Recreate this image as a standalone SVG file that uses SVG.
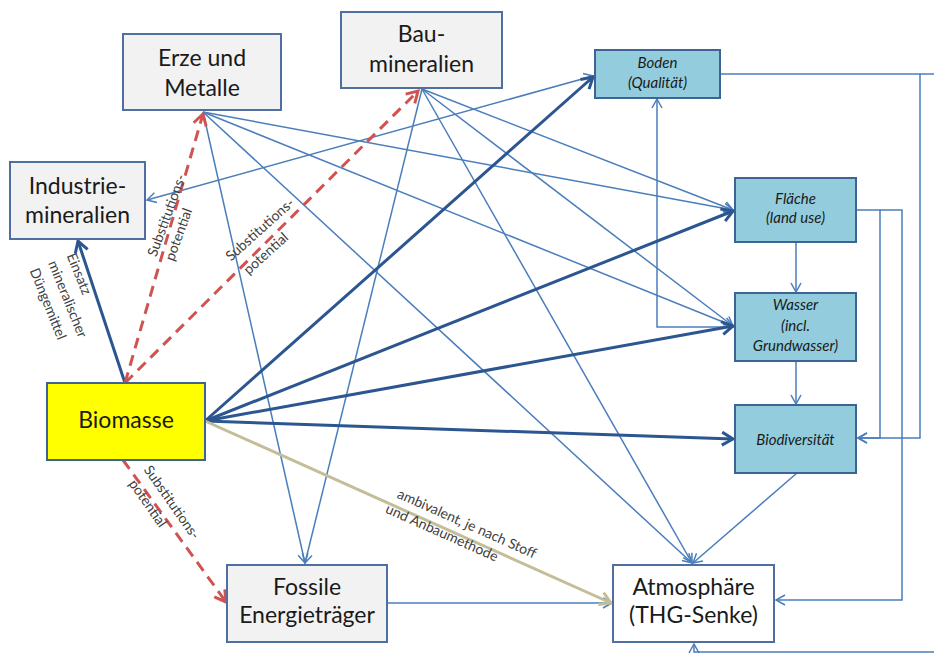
<svg xmlns="http://www.w3.org/2000/svg" width="934" height="655" viewBox="0 0 934 655">
<defs>
<style>
.grey{fill:#F2F2F2;stroke:#4F6FA0;stroke-width:2}
.blue{fill:#93CDDD;stroke:#3D6494;stroke-width:2}
.nt{font-family:Lato,"Liberation Sans",sans-serif;font-size:23px;fill:#1a1a1a;text-anchor:middle}
.bt{font-family:Lato,"Liberation Sans",sans-serif;font-size:15px;font-style:italic;fill:#1a1a1a;text-anchor:middle}
.lbl{font-family:Lato,"Liberation Sans",sans-serif;font-size:14px;fill:#404040;text-anchor:middle}
.thin{fill:none;stroke:#4A7EBB;stroke-width:1.5}
.thick{fill:none;stroke:#2B5690;stroke-width:3}
.red{fill:none;stroke:#CF5451;stroke-width:3;stroke-dasharray:11 7}
.tan{fill:none;stroke:#C4BD97;stroke-width:3}
</style>
<marker id="aThin" markerUnits="userSpaceOnUse" markerWidth="14" markerHeight="14" refX="11" refY="6" orient="auto-start-reverse"><path d="M2,1 L11,6 L2,11" fill="none" stroke="#4A7EBB" stroke-width="1.5"/></marker>
<marker id="aThick" markerUnits="userSpaceOnUse" markerWidth="18" markerHeight="18" refX="14" refY="8" orient="auto"><path d="M3,1.5 L14,8 L3,14.5" fill="none" stroke="#2B5690" stroke-width="3"/></marker>
<marker id="aRed" markerUnits="userSpaceOnUse" markerWidth="18" markerHeight="18" refX="14" refY="8" orient="auto"><path d="M3,1.5 L14,8 L3,14.5" fill="none" stroke="#CF5451" stroke-width="3"/></marker>
<marker id="aTan" markerUnits="userSpaceOnUse" markerWidth="18" markerHeight="18" refX="14" refY="8" orient="auto"><path d="M3,1.5 L14,8 L3,14.5" fill="none" stroke="#C4BD97" stroke-width="3"/></marker>
</defs>
<rect width="934" height="655" fill="#ffffff"/>
<g id="connectors">
<line class="thin" x1="203" y1="112" x2="733" y2="210" marker-end="url(#aThin)"/>
<line class="thin" x1="203" y1="112" x2="733" y2="326" marker-end="url(#aThin)"/>
<line class="thin" x1="203" y1="112" x2="692" y2="563" marker-end="url(#aThin)"/>
<line class="thin" x1="203" y1="112" x2="305" y2="563" marker-end="url(#aThin)"/>
<line class="thin" x1="422" y1="89" x2="733" y2="210" marker-end="url(#aThin)"/>
<line class="thin" x1="422" y1="89" x2="733" y2="326" marker-end="url(#aThin)"/>
<line class="thin" x1="422" y1="89" x2="692" y2="563" marker-end="url(#aThin)"/>
<line class="thin" x1="422" y1="89" x2="305" y2="563" marker-end="url(#aThin)"/>
<line class="thin" x1="147" y1="200" x2="593" y2="76" marker-start="url(#aThin)" marker-end="url(#aThin)"/>
<line class="thin" x1="387" y1="603" x2="612" y2="603" marker-end="url(#aThin)"/>
<line class="thin" x1="796" y1="242" x2="796" y2="292" marker-end="url(#aThin)"/>
<line class="thin" x1="796" y1="361" x2="796" y2="404" marker-end="url(#aThin)"/>
<line class="thin" x1="797" y1="473" x2="693" y2="563" marker-end="url(#aThin)"/>
<path class="thin" d="M735,327 H657 V99" marker-end="url(#aThin)"/>
<path class="thin" d="M720,74 H934"/>
<path class="thin" d="M920,74 V438 H858" marker-end="url(#aThin)"/>
<path class="thin" d="M856,210 H880 V438 H858" marker-end="url(#aThin)"/>
<path class="thin" d="M880,210 H902 V600 H776" marker-end="url(#aThin)"/>
<path class="thin" d="M934,652 H694 V644" marker-end="url(#aThin)"/>
<line class="thick" x1="125" y1="383" x2="78" y2="241" marker-end="url(#aThick)"/>
<line class="thick" x1="205" y1="421" x2="593" y2="77" marker-end="url(#aThick)"/>
<line class="thick" x1="205" y1="421" x2="733" y2="211" marker-end="url(#aThick)"/>
<line class="thick" x1="205" y1="421" x2="733" y2="326" marker-end="url(#aThick)"/>
<line class="thick" x1="205" y1="421" x2="733" y2="439" marker-end="url(#aThick)"/>
<line class="red" x1="125" y1="383" x2="203" y2="114" marker-end="url(#aRed)"/>
<line class="red" x1="125" y1="383" x2="418" y2="91" marker-end="url(#aRed)"/>
<line class="red" x1="123" y1="460" x2="226" y2="602" marker-end="url(#aRed)"/>
<line class="tan" x1="205" y1="421" x2="611" y2="603" marker-end="url(#aTan)"/>
<g id="labels">
<g transform="translate(48,263) rotate(68)">
<text class="lbl" style="text-anchor:start" x="0" y="-20">Einsatz</text>
<text class="lbl" style="text-anchor:start" x="0" y="0">mineralischer</text>
<text class="lbl" style="text-anchor:start" x="0" y="20">Düngemittel</text>
</g>
<text class="lbl" transform="translate(171,217) rotate(-70)">Substitutions-</text>
<text class="lbl" transform="translate(183,236) rotate(-70)">potential</text>
<text class="lbl" transform="translate(263,233) rotate(-42)">Substitutions-</text>
<text class="lbl" transform="translate(269,257) rotate(-42)">potential</text>
<text class="lbl" transform="translate(168,505) rotate(55)">Substitutions-</text>
<text class="lbl" transform="translate(144,506) rotate(55)">potential</text>
<text class="lbl" transform="translate(465,528) rotate(24)">ambivalent, je nach Stoff</text>
<text class="lbl" transform="translate(440,537) rotate(24)">und Anbaumethode</text>
</g>
</g>
<g id="erze"><rect class="grey" x="123" y="34" width="158" height="76"/><text class="nt" x="202" y="66">Erze und</text><text class="nt" x="202" y="96">Metalle</text></g>
<g id="industrie"><rect class="grey" x="10" y="162" width="135" height="77"/><text class="nt" x="77.5" y="194">Industrie-</text><text class="nt" x="77.5" y="223">mineralien</text></g>
<g id="bau"><rect class="grey" x="341" y="12" width="161" height="76"/><text class="nt" x="421.5" y="42">Bau-</text><text class="nt" x="421.5" y="72">mineralien</text></g>
<g id="boden"><rect class="blue" x="595" y="50" width="125" height="48"/><text class="bt" x="657.5" y="68">Boden</text><text class="bt" x="657.5" y="88">(Qualität)</text></g>
<g id="flaeche"><rect class="blue" x="735" y="178" width="121" height="64"/><text class="bt" x="795.5" y="204">Fläche</text><text class="bt" x="795.5" y="223">(land use)</text></g>
<g id="wasser"><rect class="blue" x="735" y="293" width="121" height="68"/><text class="bt" x="795.5" y="310">Wasser</text><text class="bt" x="795.5" y="331">(incl.</text><text class="bt" x="795.5" y="351">Grundwasser)</text></g>
<g id="biodiversitaet"><rect class="blue" x="735" y="405" width="121" height="68"/><text class="bt" x="795.5" y="445">Biodiversität</text></g>
<g id="atmosphaere"><rect x="613" y="565" width="161" height="77" fill="#ffffff" stroke="#4F6FA0" stroke-width="2"/><text class="nt" x="693.5" y="595">Atmosphäre</text><text class="nt" x="693.5" y="623">(THG-Senke)</text></g>
<g id="fossile"><rect class="grey" x="227" y="565" width="160" height="77"/><text class="nt" x="307" y="595">Fossile</text><text class="nt" x="307" y="623">Energieträger</text></g>
<g id="biomasse"><rect x="47" y="383" width="158" height="77" fill="#FFFF00" stroke="#3D6494" stroke-width="2"/><text class="nt" x="126" y="428">Biomasse</text></g>
</svg>
